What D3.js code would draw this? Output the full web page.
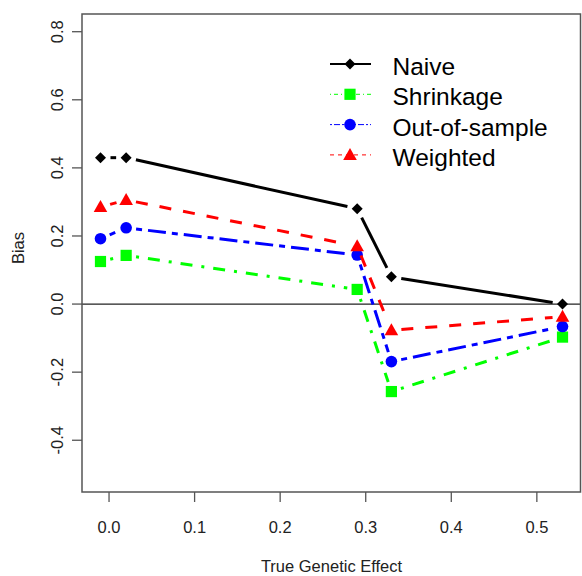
<!DOCTYPE html>
<html>
<head>
<meta charset="utf-8">
<script src="https://cdn.jsdelivr.net/npm/d3@7"></script>
<style>
  body { margin: 0; background: #fff; }
  text { font-family: "Liberation Sans", Arial, sans-serif; fill: #222; }
</style>
</head>
<body>
<div id="chart"></div>
<script>
var w = 582,
    h = 576,
    m = [14, 1, 84, 82]; // top right bottom left

var trueEffect = [-0.01, 0.02, 0.29, 0.33, 0.53];
var naive = [0.43, 0.43, 0.28, 0.08, 0.00];
var shrinkage = [0.125, 0.143, 0.043, -0.257, -0.097];
var outOfSample = [0.192, 0.224, 0.144, -0.169, -0.066];
var weighted = [0.285, 0.306, 0.17, -0.077, -0.037];

var seriesNames = ["Naive", "Shrinkage", "Out-of-sample", "Weighted"];
var xTicks = [0, 0.1, 0.2, 0.3, 0.4, 0.5];
var yTicks = [-0.4, -0.2, 0, 0.2, 0.4, 0.6, 0.8];

var styles = [
  { values: naive, color: "#000000", dash: null, shape: "diamond" },
  { values: shrinkage, color: "#00ff00", dash: "3,9,12,9", shape: "square" },
  { values: outOfSample, color: "#0000ff", dash: "6,6,18,6", shape: "circle" },
  { values: weighted, color: "#ff0000", dash: "12,12", shape: "triangle" }
];

var pw = w - m[1] - m[3],
    ph = h - m[0] - m[2];

var x = d3.scaleLinear().domain([-0.0316, 0.5516]).range([0, pw]);
var y = d3.scaleLinear().domain([-0.552, 0.852]).range([ph, 0]);

var svg = d3.select("#chart").append("svg")
    .attr("width", w)
    .attr("height", h);

var vis = svg.append("g")
    .attr("transform", "translate(" + m[3] + "," + m[0] + ")");

function marker(sel, shape, color) {
  if (shape == "circle") {
    sel.append("circle").attr("r", 5.8).attr("fill", color);
  } else if (shape == "square") {
    sel.append("rect").attr("x", -5.6).attr("y", -5.6)
      .attr("width", 11.2).attr("height", 11.2).attr("fill", color);
  } else if (shape == "diamond") {
    sel.append("path").attr("d", "M0,-5.5L5.5,0L0,5.5L-5.5,0Z").attr("fill", color);
  } else {
    sel.append("path").attr("d", "M0,-7L6.8,5L-6.8,5Z").attr("fill", color);
  }
}

// zero line
vis.append("line")
    .attr("x1", 0).attr("x2", pw)
    .attr("y1", y(0)).attr("y2", y(0))
    .attr("stroke", "#222").attr("stroke-width", 1.2);

// series, type "b": segments with gaps at the points
var gap = 10;
styles.forEach(function(s) {
  var pts = trueEffect.map(function(d, i) { return [x(d), y(s.values[i])]; });
  for (var i = 0; i < pts.length - 1; i++) {
    var a = pts[i], b = pts[i + 1];
    var dx = b[0] - a[0], dy = b[1] - a[1];
    var len = Math.sqrt(dx * dx + dy * dy);
    if (len <= 2 * gap) continue;
    var ux = dx / len, uy = dy / len;
    vis.append("line")
        .attr("x1", a[0] + ux * gap).attr("y1", a[1] + uy * gap)
        .attr("x2", b[0] - ux * gap).attr("y2", b[1] - uy * gap)
        .attr("stroke", s.color)
        .attr("stroke-width", 3)
        .attr("stroke-dasharray", s.dash);
  }
  pts.forEach(function(p) {
    var g = vis.append("g").attr("transform", "translate(" + p[0] + "," + p[1] + ")");
    marker(g, s.shape, s.color);
  });
});

// box
vis.append("rect")
    .attr("x", 0).attr("y", 0)
    .attr("width", pw - 0.5).attr("height", ph)
    .attr("fill", "none").attr("stroke", "#555").attr("stroke-width", 1.5);

// x axis
var xa = vis.append("g").attr("transform", "translate(0," + ph + ")");
xa.selectAll("line").data(xTicks).enter().append("line")
    .attr("x1", x).attr("x2", x)
    .attr("y1", 0).attr("y2", 10)
    .attr("stroke", "#555").attr("stroke-width", 1.3);
xa.selectAll("text").data(xTicks).enter().append("text")
    .attr("x", x).attr("y", 41)
    .attr("text-anchor", "middle")
    .style("font-size", "16.5px")
    .text(function(d) { return d3.format(".1f")(d); });

// y axis
var ya = vis.append("g");
ya.selectAll("line").data(yTicks).enter().append("line")
    .attr("x1", -10).attr("x2", 0)
    .attr("y1", y).attr("y2", y)
    .attr("stroke", "#555").attr("stroke-width", 1.3);
ya.selectAll("text").data(yTicks).enter().append("text")
    .attr("transform", function(d) { return "translate(-19," + y(d) + ") rotate(-90)"; })
    .attr("text-anchor", "middle")
    .style("font-size", "16.5px")
    .text(function(d) { return d3.format(".1f")(d).replace("\u2212", "-"); });

// axis titles
svg.append("text")
    .attr("x", m[3] + pw / 2).attr("y", 572)
    .attr("text-anchor", "middle")
    .style("font-size", "16.5px")
    .text("True Genetic Effect");

svg.append("text")
    .attr("transform", "translate(24,248) rotate(-90)")
    .attr("text-anchor", "middle")
    .style("font-size", "16.5px")
    .text("Bias");

// legend
var legend = svg.append("g").attr("transform", "translate(330,64)");
var rows = legend.selectAll("g").data(styles).enter().append("g")
    .attr("transform", function(d, i) { return "translate(0," + i * 30.3 + ")"; });
rows.append("line")
    .attr("x1", 0).attr("x2", 41)
    .attr("stroke", function(d) { return d.color; })
    .attr("stroke-width", function(d) { return d.dash ? 1 : 2; })
    .attr("stroke-dasharray", function(d) { return d.dash ? d.dash.split(",").map(function(v) { return v / 3; }).join(",") : null; });
rows.each(function(d) {
  marker(d3.select(this).append("g").attr("transform", "translate(20,0)"), d.shape, d.color);
});
rows.append("text")
    .attr("x", 62.5).attr("y", 11)
    .style("font-size", "24.5px")
    .style("fill", "#000")
    .text(function(d, i) { return seriesNames[i]; });
</script>
</body>
</html>
